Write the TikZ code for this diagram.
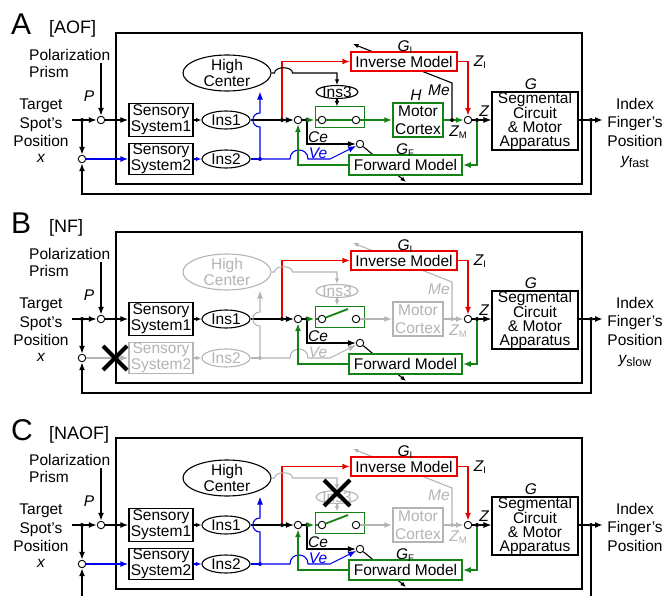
\documentclass[tikz,border=0pt]{standalone}
\usepackage{fontspec}
\setmainfont{Liberation Sans}
\usepackage{xcolor}
\usepackage{tikz}
\usetikzlibrary{arrows.meta, shapes.geometric, backgrounds}

\definecolor{fwdgreen}{RGB}{20,130,20}
\definecolor{offgray}{RGB}{180,180,180}
\definecolor{sigblue}{RGB}{0,0,235}
\definecolor{sigred}{RGB}{235,0,0}

\newcommand\lowtxt[2][9.5]{\raisebox{-0.3ex}{\fontsize{#1}{#1}\selectfont\upshape #2}}

% one panel, y counted from the main signal line
\newcommand\panelbody[3]{%
\node[anchor=base west, inner sep=0pt, font=\fontsize{30}{30}\selectfont] (ttl) at (11,-85) {#1};
\node[anchor=base west, inner sep=0pt, font=\fontsize{18}{18}\selectfont] (tag) at (49,-86) {#2};
\draw[wire] (116,-87) rectangle (582,64);
\node[anchor=north west, align=left, inner sep=0pt, font=\fontsize{15.5}{17}\selectfont] (prismtxt) at (29,-71) {Polarization\\Prism};
\node[anchor=north, align=center, inner sep=0pt, font=\fontsize{15.5}{18.5}\selectfont] (intxt) at (41,-21) {Target\\Spot's\\Position\\[-3pt]{\itshape x}};
\node[anchor=north, align=center, inner sep=0pt, font=\fontsize{15.5}{18.5}\selectfont] (outtxt) at (635,-22) {#3};
\node[lab] (plab) at (89,-24) {P};
% input side
\coordinate (tin) at (72,0);
\coordinate (prism) at (101,-57);
\node[jdot] (jin) at (82,0) {};
\node[sumpt] (psum) at (101,0) {};
\node[sumpt] (fsum) at (82,39) {};
\node[blk, minimum width=64pt, minimum height=33pt] (ss1) at (161,0) {Sensory\\System1};
\node[blk, minimum width=64pt, minimum height=31pt, draw=twoC, text=twoC] (ss2) at (161,39) {Sensory\\System2};
\node[ell, minimum width=48pt, minimum height=18pt] (ins1) at (226,0) {Ins1};
\node[ell, minimum width=48pt, minimum height=18pt, draw=twoC, text=twoC] (ins2) at (226,39) {Ins2};
\node[ell, minimum width=88pt, minimum height=36pt, inner ysep=-3pt, draw=hiC, text=hiC] (hc) at (227,-47) {High\\Center};
\node[jdot, color=blueC] (bdot) at (260,39) {};
% switch, motor cortex, models
\node[jdot] (jr) at (282,0) {};
\node[sumpt] (s1) at (298,0) {};
\node[jdot] (jg) at (307,0) {};
\node[draw=fwdgreen, line width=1pt, minimum width=49pt, minimum height=21pt, inner sep=0pt] (sw) at (339.5,-2.5) {};
\node[sumpt] (c1) at (322,0) {};
\node[sumpt] (c2) at (356,0) {};
\node[sumpt] (ctc) at (360,24) {};
\node[ell, minimum width=42pt, minimum height=13pt, inner ysep=-2pt, draw=insC, text=insC] (ins3) at (337,-28) {Ins3};
\node[blk, minimum width=50pt, minimum height=34pt, draw=motG, text=motC, line width=1.5pt, font=\fontsize{15.5}{18}\selectfont] (mc) at (418,0) {Motor\\Cortex};
\node[jdot, color=motC] (jm) at (452,0) {};
\node[sumpt] (s2) at (468,0) {};
\node[jdot] (jz) at (477,0) {};
\node[blk, draw=sigred, line width=1.5pt, minimum width=106pt, minimum height=19pt] (inv) at (404,-58.5) {Inverse Model};
\node[blk, draw=fwdgreen, line width=1.5pt, minimum width=113pt, minimum height=20pt] (fm) at (405.5,45) {Forward Model};
% plant
\node[blk, minimum width=86pt, minimum height=58pt, font=\fontsize{15.5}{14}\selectfont] (gb) at (535,1) {Segmental\\Circuit\\\& Motor\\Apparatus};
\node[lab, fill=white, inner xsep=3pt, inner ysep=0pt] (glab) at (531,-36) {G};
\node[jdot] (jo) at (591,0) {};
\coordinate (tout) at (603,0);
% labels
\node[lab] (gilab) at (405,-73) {G\lowtxt{I}};
\node[lab] (zilab) at (480,-58) {Z\lowtxt{I}};
\node[lab, text=motC] (melab) at (439,-30) {Me};
\node[lab, text=motC] (zmlab) at (458,12) {Z\lowtxt{M}};
\node[lab] (zlab) at (484,-9) {Z};
\node[lab] (celab) at (318,17) {Ce};
\node[lab, text=blueC] (velab) at (318,33) {Ve};
% connectors
\draw[sig, arr] (tin) -- (psum);
\draw[sig, arr] (jin) -- (fsum);
\draw[sig, arr] (prism) -- (psum);
\draw[sig, arr] (psum) -- (ss1);
\draw[sig, arr, blueC] (fsum) -- (ss2);
\draw[wire, sarr] (ss1) -- (ins1);
\draw[wire, sarr, blueC] (ss2) -- (ins2);
\draw[wire] (ins1) -- (jr);
\draw[wire, arr] (jr) -- (s1);
\draw[sig, sigred, arr] (jr) |- (inv);
\draw[sig, sigred, arr] (inv) -| (s2);
\draw[wire, blueC] (ins2) -- (bdot);
\draw[wire, blueC, arr] (bdot) -- ++(0,-32) .. controls +(-9.5,0) and +(-9.5,0) .. ++(0,-14) -- (bdot |- hc.south);
\draw[wire, insC, sarr] (hc.east) -- ++(3,0) .. controls +(0,-7) and +(0,-7) .. ++(18,0) -| (ins3.north);
\draw[wire, insC, sarr] (ins3.south) -- (ins3.south |- sw.north);
\draw[wire] (s1) -- (jg);
\draw[sig, fwdgreen, arr] (jg) -- (sw.west |- jg);
\draw[sig, fwdgreen] (sw.west |- jg) -- (c1);
\draw[sig, motG, arr] (c2) -- (mc);
\draw[wire, arr] (jg) |- (ctc);
\draw[wire, blueC, arr] (bdot) -- (290,39) .. controls +(0,-12) and +(0,-12) .. (308,39) -- (330,39) -- (ctc);
\draw[sig, motG] (mc) -- (jm);
\draw[sig, motG, arr] (jm) -- (s2);
\draw[wire] (s2) -- (jz);
\draw[wire, arr] (jz) -- (gb.west |- jz);
\draw[sig, fwdgreen, arr] (jz) |- (fm);
\draw[sig, fwdgreen, arr] (fm) -| (s1);
\draw[sig] (gb.east |- jo) -- (jo);
\draw[sig, arr] (jo) -- (tout);
% learning signals pass behind the models
\begin{pgfonlayer}{background}
\draw[wire, motC, sarr] (jm) -- ++(0,-37) -- (353,-76);
\draw[wire, sarr] (ctc) -- (406,62);
\end{pgfonlayer}
}

\begin{document}
\begin{tikzpicture}[x=1pt, y=-1pt,
  every node/.style={font=\fontsize{15.5}{16}\selectfont},
  blk/.style={draw, rectangle, fill=white, line width=1.1pt, inner sep=0pt, align=center},
  ell/.style={draw, ellipse, fill=white, line width=1.1pt, inner sep=0pt, align=center},
  jdot/.style={circle, fill, inner sep=0pt, minimum size=4pt},
  sumpt/.style={circle, draw, fill=white, inner sep=0pt, minimum size=7.5pt, line width=0.9pt},
  arr/.style={-{Latex[length=8pt,width=6pt]}},
  sarr/.style={-{Latex[length=5.5pt,width=4.5pt]}},
  lab/.style={font=\fontsize{15.5}{16}\selectfont\itshape, inner sep=0pt},
  sig/.style={line width=1.8pt},
  wire/.style={line width=1.1pt}]
\useasboundingbox (0,0) rectangle (667,596);

% A: all loops working
\begin{scope}[shift={(0,120)}, name prefix=a-]
\colorlet{hiC}{black}\colorlet{twoC}{black}\colorlet{blueC}{sigblue}
\colorlet{insC}{black}\colorlet{motC}{black}\colorlet{motG}{fwdgreen}
\panelbody{A}{[AOF]}{Index\\Finger's\\Position\\{\itshape y}\lowtxt[12.5]{fast}}
\draw[sig, fwdgreen] (c1) -- (c2);
\node[lab] (hlab) at (416,-25) {H};
\node[lab] (gflab) at (405,30) {G\lowtxt{F}};
\draw[sig, arr] (jo) -- ++(0,74) -| (fsum);
\end{scope}

% B: no feedback
\begin{scope}[shift={(0,319)}, name prefix=b-]
\colorlet{hiC}{offgray}\colorlet{twoC}{offgray}\colorlet{blueC}{offgray}
\colorlet{insC}{offgray}\colorlet{motC}{offgray}\colorlet{motG}{offgray}
\panelbody{B}{[NF]}{Index\\Finger's\\Position\\{\itshape y}\lowtxt[12.5]{slow}}
\draw[sig, fwdgreen] (c1) -- ++(26,-10);
\draw[line width=4pt] (103,27) -- (127,51) (103,51) -- (127,27);
\draw[sig, arr] (jo) -- ++(0,74) -| (fsum);
\end{scope}

% C: Ins3 blocked
\begin{scope}[shift={(0,525)}, name prefix=c-]
\colorlet{hiC}{black}\colorlet{twoC}{black}\colorlet{blueC}{sigblue}
\colorlet{insC}{offgray}\colorlet{motC}{offgray}\colorlet{motG}{offgray}
\panelbody{C}{[NAOF]}{Index\\Finger's\\Position}
\draw[sig, fwdgreen] (c1) -- ++(26,-10);
\node[lab] (gflab) at (405,30) {G\lowtxt{F}};
\draw[line width=4pt] (324,-45) -- (350,-19) (324,-19) -- (350,-45);
\coordinate (fbtop) at (591,71);
\coordinate (fbbot) at (82,71);
\draw[sig] (jo) -- (fbtop);
\draw[sig, arr] (fbbot) -- (fsum);
\end{scope}
\end{tikzpicture}
\end{document}
